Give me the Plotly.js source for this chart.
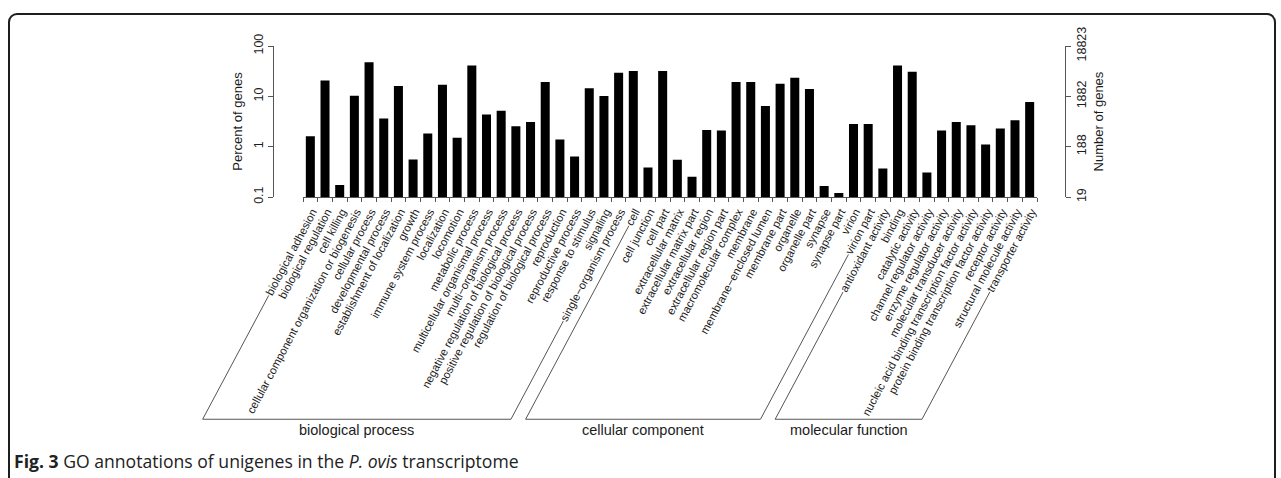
<!DOCTYPE html>
<html>
<head>
<meta charset="utf-8">
<script src="https://cdn.plot.ly/plotly-3.0.1.min.js"></script>
<style>
  html, body { margin: 0; padding: 0; background: #fff; overflow: hidden; }
  #wrap { position: relative; width: 1281px; height: 478px; }
  #chart { position: absolute; left: 0; top: 0; width: 1281px; height: 478px; }
  #frame {
    position: absolute; left: 8px; top: 13px; width: 1264px; height: 520px;
    border: 2px solid #1e1e1e; border-bottom: none; border-radius: 9px 9px 0 0;
    pointer-events: none;
  }
</style>
</head>
<body>
<div id="wrap">
  <div id="frame"></div>
  <div id="chart"></div>
</div>
<script>
// GO term categories, grouped by ontology
const bioProcess = [
  "biological adhesion", "biological regulation", "cell killing",
  "cellular component organization or biogenesis", "cellular process",
  "developmental process", "establishment of localization", "growth",
  "immune system process", "localization", "locomotion", "metabolic process",
  "multicellular organismal process", "multi\u2212organism process",
  "negative regulation of biological process",
  "positive regulation of biological process",
  "regulation of biological process", "reproduction", "reproductive process",
  "response to stimulus", "signaling", "single\u2212organism process"
];
const cellComponent = [
  "cell", "cell junction", "cell part", "extracellular matrix",
  "extracellular matrix part", "extracellular region",
  "extracellular region part", "macromolecular complex", "membrane",
  "membrane\u2212enclosed lumen", "membrane part", "organelle", "organelle part",
  "synapse", "synapse part", "virion", "virion part"
];
const molFunction = [
  "antioxidant activity", "binding", "catalytic activity",
  "channel regulator activity", "enzyme regulator activity",
  "molecular transducer activity",
  "nucleic acid binding transcription factor activity",
  "protein binding transcription factor activity", "receptor activity",
  "structural molecule activity", "transporter activity"
];

// Percent of annotated unigenes in each term
const bioProcessPct = [1.61, 20.7, 0.173, 10.3, 47.8, 3.62, 16.0, 0.557, 1.82, 17.0,
  1.50, 41.1, 4.34, 5.2, 2.55, 3.10, 19.2, 1.39, 0.638, 14.4, 10.1, 29.5];
const cellComponentPct = [31.8, 0.386, 31.8, 0.548, 0.253, 2.15, 2.09, 19.2, 19.2,
  6.43, 17.8, 23.4, 14.0, 0.165, 0.12, 2.83, 2.83];
const molFunctionPct = [0.370, 41.1, 30.8, 0.308, 2.09, 3.10, 2.66, 1.10, 2.29,
  3.35, 7.72];

const groupNames = ["biological process", "cellular component", "molecular function"];

// Total number of annotated genes (100 %)
const totalGenes = 18823;
const pctTicks = [0.1, 1, 10, 100];
const pctTickText = ["0.1", "1", "10", "100"];
const countTickText = ["19", "188", "1882", "18823"];

const groups = [bioProcess, cellComponent, molFunction];
const terms = [].concat(bioProcess, cellComponent, molFunction);
const pct = [].concat(bioProcessPct, cellComponentPct, molFunctionPct);
const counts = pct.map(p => p * totalGenes / 100);

// page geometry (px)
const W = 1281, H = 478;
const M = { l: 273, r: 216, t: 45.5, b: 281 };
const plotW = W - M.l - M.r, plotH = H - M.t - M.b;
const barsLeft = 303, barsRight = 1037;
const bracketBase = 420;
const px2x = p => (p - M.l) / plotW;
const px2y = p => 1 - (p - M.t) / plotH;

const FONT = "Liberation Sans, Arial, Helvetica, sans-serif";
const INK = "#1c1c1c";
const LINE = "#555555";
const LABEL_ANGLE = 62;

const pctBars = {
  type: "bar",
  x: terms,
  y: pct,
  marker: { color: "#000000", line: { width: 0 } },
  hoverinfo: "x+y"
};
// gene counts on the secondary axis (same heights, carries the right scale)
const countMarks = {
  type: "scatter",
  mode: "markers",
  x: terms,
  y: counts,
  yaxis: "y2",
  marker: { size: 1, opacity: 0 },
  hoverinfo: "skip"
};

const axisCommon = {
  type: "log",
  ticks: "outside", ticklen: 5, tickcolor: LINE,
  showline: true, linecolor: LINE, linewidth: 1,
  showgrid: false, zeroline: false,
  tickangle: -90,
  tickfont: { family: FONT, size: 12.5, color: INK },
  automargin: false
};

const layout = {
  width: W, height: H,
  margin: M,
  paper_bgcolor: "rgba(0,0,0,0)",
  plot_bgcolor: "rgba(0,0,0,0)",
  showlegend: false,
  bargap: 0.385,
  font: { family: FONT, color: INK },
  xaxis: {
    type: "category",
    range: [-0.5, terms.length - 0.5],
    domain: [px2x(barsLeft), px2x(barsRight)],
    anchor: "y",
    tickmode: "linear", tick0: 0, dtick: 1,
    tickson: "boundaries",
    ticks: "outside", ticklen: 4, tickcolor: LINE, tickwidth: 1,
    ticklabelstandoff: 3, ticklabelshift: 2,
    showline: true, linecolor: LINE, linewidth: 1,
    showgrid: false, zeroline: false,
    tickangle: -LABEL_ANGLE,
    tickfont: { family: FONT, size: 11.3, color: INK },
    automargin: false
  },
  yaxis: Object.assign({}, axisCommon, {
    range: [-1, 2],
    anchor: "free", position: 0,
    tickmode: "array", tickvals: pctTicks, ticktext: pctTickText,
    title: { text: "Percent of genes", font: { family: FONT, size: 13, color: INK }, standoff: 5 }
  }),
  yaxis2: Object.assign({}, axisCommon, {
    overlaying: "y",
    side: "right",
    anchor: "free", position: 1,
    range: [Math.log10(totalGenes / 1000), Math.log10(totalGenes)],
    tickmode: "array",
    tickvals: pctTicks.map(v => v * totalGenes / 100),
    ticktext: countTickText,
    title: { text: "Number of genes", font: { family: FONT, size: 13, color: INK }, standoff: 5 }
  }),
  annotations: [{
    xref: "paper", yref: "paper",
    x: px2x(12), y: px2y(462),
    xanchor: "left", yanchor: "middle",
    showarrow: false,
    text: "<b>Fig. 3</b> GO annotations of unigenes in the <i>P. ovis</i> transcriptome",
    font: { family: "Open Sans, Noto Sans, sans-serif", size: 17.6, color: "#222" }
  }]
};

const gd = document.getElementById("chart");
Plotly.newPlot(gd, [pctBars, countMarks], layout, { staticPlot: true }).then(function () {
  // Group brackets: slanted lines continue from the first and last label of
  // each ontology down to a common baseline, joined by a horizontal rule.
  const svg = gd.querySelector(".main-svg").getBoundingClientRect();
  const byName = {};
  gd.querySelectorAll(".xaxislayer-above .xtick text").forEach(function (el) {
    const d = el.__data__;
    if (d && d.text !== undefined) byName[d.text] = el;
  });
  function labelStart(name) {
    const el = byName[name];
    const bb = el.getBBox();
    const p = new DOMPoint(bb.x - 1, bb.y + bb.height * 0.55).matrixTransform(el.getScreenCTM());
    return { x: p.x - svg.left, y: p.y - svg.top };
  }
  const k = 1 / Math.tan(LABEL_ANGLE * Math.PI / 180);
  const shapes = [], notes = layout.annotations.slice();
  groups.forEach(function (g, gi) {
    const a = labelStart(g[0]);
    const b = labelStart(g[g.length - 1]);
    const ax = a.x - (bracketBase - a.y) * k;
    const bx = b.x - (bracketBase - b.y) * k;
    const path = "M" + px2x(a.x) + "," + px2y(a.y) +
      " L" + px2x(ax) + "," + px2y(bracketBase) +
      " L" + px2x(bx) + "," + px2y(bracketBase) +
      " L" + px2x(b.x) + "," + px2y(b.y);
    shapes.push({
      type: "path", xref: "paper", yref: "paper", path: path,
      line: { color: LINE, width: 1 }
    });
    notes.push({
      xref: "paper", yref: "paper",
      x: px2x((ax + bx) / 2), y: px2y(bracketBase),
      xanchor: "center", yanchor: "top", yshift: -1,
      showarrow: false, text: groupNames[gi],
      font: { family: FONT, size: 14.5, color: INK }
    });
  });
  return Plotly.relayout(gd, { shapes: shapes, annotations: notes });
});
</script>
</body>
</html>
